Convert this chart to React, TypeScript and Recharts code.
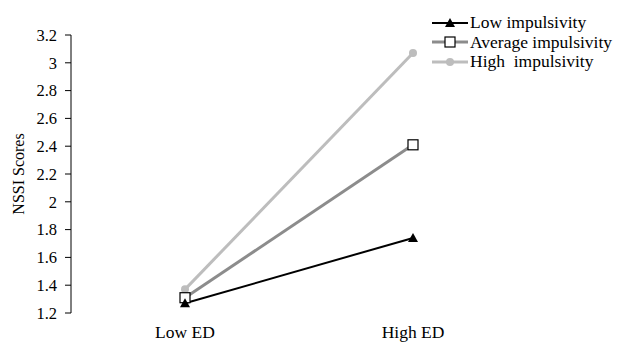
import React from "react";
import { LineChart, Line, XAxis, YAxis } from "recharts";

const categories = ["Low ED", "High ED"];
const lowImpulsivity = [1.27, 1.74];
const averageImpulsivity = [1.31, 2.41];
const highImpulsivity = [1.37, 3.07];
const yTicks = [1.2, 1.4, 1.6, 1.8, 2, 2.2, 2.4, 2.6, 2.8, 3, 3.2];

// categories sit in the middle of each band, tick marks on the band edges
const chartData = categories.map((name, i) => ({
  x: i + 0.5,
  name,
  low: lowImpulsivity[i],
  average: averageImpulsivity[i],
  high: highImpulsivity[i],
}));

const FONT = '"Liberation Serif", "Times New Roman", serif';

const Triangle = (props: any) => {
  const { cx, cy } = props;
  if (cx == null || cy == null) return null;
  return <path d={`M${cx},${cy - 5} L${cx + 5},${cy + 4} L${cx - 5},${cy + 4} Z`} fill="#000" />;
};

const Square = (props: any) => {
  const { cx, cy } = props;
  if (cx == null || cy == null) return null;
  return <rect x={cx - 5} y={cy - 5} width={10} height={10} fill="#fff" stroke="#000" strokeWidth={1.2} />;
};

const Dot = (props: any) => {
  const { cx, cy } = props;
  if (cx == null || cy == null) return null;
  return <circle cx={cx} cy={cy} r={4} fill="#bdbdbd" />;
};

const legendItems = [
  { label: "Low impulsivity", color: "#000", width: 2, marker: "triangle" },
  { label: "Average impulsivity", color: "#8c8c8c", width: 3, marker: "square" },
  { label: "High  impulsivity", color: "#bdbdbd", width: 3, marker: "dot" },
];

function LegendBox() {
  return (
    <div style={{ position: "absolute", left: 432, top: 13, fontFamily: FONT, fontSize: 17.5, color: "#000" }}>
      {legendItems.map((it) => (
        <div key={it.label} style={{ display: "flex", alignItems: "center", height: 19.5, whiteSpace: "pre" }}>
          <svg width={38} height={14} style={{ display: "block" }}>
            <line x1={0} y1={7} x2={36} y2={7} stroke={it.color} strokeWidth={it.width} />
            {it.marker === "triangle" && <path d="M18,2 L23,11 L13,11 Z" fill="#000" />}
            {it.marker === "square" && <rect x={13} y={2} width={10} height={10} fill="#fff" stroke="#000" strokeWidth={1.2} />}
            {it.marker === "dot" && <circle cx={18} cy={7} r={4} fill="#bdbdbd" />}
          </svg>
          <span style={{ lineHeight: "17px" }}>{it.label}</span>
        </div>
      ))}
    </div>
  );
}

export default function App() {
  return (
    <div style={{ position: "absolute", left: 0, top: 0, width: 619, height: 343, background: "#fff" }}>
      <LineChart width={619} height={343} data={chartData} margin={{ top: 35, right: 92, bottom: 0, left: 0 }}>
        <XAxis
          xAxisId="marks"
          dataKey="x"
          type="number"
          domain={[0, 2]}
          ticks={[1, 2]}
          tick={false}
          height={0}
          tickSize={5}
          axisLine={{ stroke: "#000", strokeWidth: 1 }}
          tickLine={{ stroke: "#000", strokeWidth: 1 }}
        />
        <XAxis
          xAxisId="labels"
          dataKey="x"
          type="number"
          domain={[0, 2]}
          ticks={[0.5, 1.5]}
          height={30}
          axisLine={false}
          tickLine={false}
          tickMargin={7}
          tickFormatter={(v: number) => categories[Math.floor(v)]}
          tick={{ fontFamily: FONT, fontSize: 17.5, fill: "#000" }}
        />
        <YAxis
          domain={[1.2, 3.2]}
          ticks={yTicks}
          width={71}
          tickSize={6}
          tickMargin={8}
          interval={0}
          axisLine={{ stroke: "#000", strokeWidth: 1 }}
          tickLine={{ stroke: "#000", strokeWidth: 1 }}
          tickFormatter={(v: number) => String(+v.toFixed(1))}
          tick={{ fontFamily: FONT, fontSize: 16.5, fill: "#000" }}
          label={{
            value: "NSSI Scores",
            angle: -90,
            position: "insideLeft",
            offset: 18,
            style: { fontFamily: FONT, fontSize: 16, fill: "#000", textAnchor: "middle" },
          }}
        />
        <Line
          xAxisId="labels"
          dataKey="high"
          stroke="#bdbdbd"
          strokeWidth={3}
          dot={<Dot />}
          activeDot={false}
          isAnimationActive={false}
        />
        <Line
          xAxisId="labels"
          dataKey="average"
          stroke="#8c8c8c"
          strokeWidth={3}
          dot={<Square />}
          activeDot={false}
          isAnimationActive={false}
        />
        <Line
          xAxisId="labels"
          dataKey="low"
          stroke="#000"
          strokeWidth={2}
          dot={<Triangle />}
          activeDot={false}
          isAnimationActive={false}
        />
      </LineChart>
      <LegendBox />
    </div>
  );
}
